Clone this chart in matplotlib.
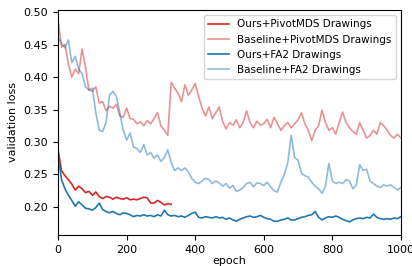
import numpy as np
import matplotlib
matplotlib.use('Agg')
import matplotlib.pyplot as plt

# validation loss sampled every 10 epochs
epochs = np.arange(0, 1001, 10)
epochs_op = np.arange(0, 331, 10)

ours_pivotmds = [0.288, 0.256, 0.248, 0.242, 0.235, 0.226, 0.232, 0.228, 0.222, 0.224,
                 0.218, 0.223, 0.216, 0.213, 0.216, 0.215, 0.212, 0.215, 0.213, 0.212,
                 0.214, 0.211, 0.212, 0.211, 0.213, 0.215, 0.214, 0.206, 0.206, 0.210,
                 0.207, 0.203, 0.205, 0.204]

base_pivotmds = [0.488, 0.446, 0.450, 0.420, 0.400, 0.412, 0.405, 0.443, 0.415, 0.380,
                 0.378, 0.385, 0.360, 0.362, 0.348, 0.355, 0.352, 0.358, 0.340, 0.338,
                 0.352, 0.336, 0.335, 0.328, 0.331, 0.325, 0.333, 0.328, 0.336, 0.345,
                 0.325, 0.318, 0.310, 0.392, 0.383, 0.375, 0.362, 0.388, 0.372, 0.380,
                 0.390, 0.370, 0.352, 0.340, 0.354, 0.336, 0.345, 0.354, 0.332, 0.320,
                 0.330, 0.326, 0.334, 0.322, 0.330, 0.348, 0.330, 0.322, 0.332, 0.326,
                 0.328, 0.335, 0.322, 0.338, 0.328, 0.318, 0.325, 0.330, 0.322, 0.328,
                 0.334, 0.345, 0.328, 0.318, 0.302, 0.318, 0.325, 0.349, 0.330, 0.318,
                 0.322, 0.312, 0.330, 0.346, 0.330, 0.322, 0.316, 0.312, 0.330, 0.318,
                 0.306, 0.310, 0.318, 0.312, 0.330, 0.325, 0.318, 0.310, 0.306, 0.312,
                 0.306]

ours_fa2 = [0.283, 0.242, 0.228, 0.218, 0.210, 0.201, 0.208, 0.203, 0.198, 0.197,
            0.195, 0.199, 0.206, 0.196, 0.193, 0.191, 0.193, 0.190, 0.188, 0.191,
            0.190, 0.188, 0.185, 0.187, 0.186, 0.188, 0.186, 0.187, 0.185, 0.188,
            0.186, 0.195, 0.188, 0.186, 0.187, 0.185, 0.186, 0.184, 0.187, 0.190,
            0.192, 0.184, 0.183, 0.185, 0.184, 0.183, 0.185, 0.183, 0.184, 0.181,
            0.183, 0.180, 0.178, 0.181, 0.183, 0.185, 0.186, 0.184, 0.185, 0.187,
            0.184, 0.182, 0.181, 0.178, 0.178, 0.180, 0.181, 0.183, 0.180, 0.180,
            0.182, 0.184, 0.185, 0.187, 0.188, 0.193, 0.184, 0.180, 0.183, 0.185,
            0.184, 0.186, 0.184, 0.181, 0.179, 0.177, 0.180, 0.182, 0.183, 0.182,
            0.184, 0.183, 0.189, 0.184, 0.182, 0.181, 0.182, 0.181, 0.183, 0.182,
            0.185]

base_fa2 = [0.460, 0.452, 0.445, 0.457, 0.422, 0.432, 0.412, 0.405, 0.385, 0.380,
            0.383, 0.345, 0.318, 0.316, 0.330, 0.372, 0.378, 0.370, 0.345, 0.318,
            0.303, 0.314, 0.292, 0.290, 0.284, 0.296, 0.280, 0.284, 0.275, 0.280,
            0.270, 0.276, 0.288, 0.268, 0.256, 0.260, 0.256, 0.260, 0.254, 0.244,
            0.238, 0.236, 0.240, 0.244, 0.242, 0.236, 0.240, 0.237, 0.232, 0.236,
            0.229, 0.233, 0.224, 0.226, 0.230, 0.236, 0.238, 0.231, 0.237, 0.236,
            0.233, 0.238, 0.231, 0.225, 0.223, 0.238, 0.250, 0.268, 0.310, 0.276,
            0.272, 0.252, 0.248, 0.246, 0.238, 0.232, 0.228, 0.221, 0.232, 0.267,
            0.240, 0.236, 0.238, 0.236, 0.242, 0.240, 0.228, 0.234, 0.265, 0.256,
            0.258, 0.240, 0.236, 0.232, 0.230, 0.234, 0.232, 0.234, 0.230, 0.226,
            0.230]

plt.rcParams['font.size'] = 8
fig = plt.figure(figsize=(4.12, 2.66), dpi=100)
ax = fig.add_axes([0.141, 0.117, 0.832, 0.845])

ax.plot(epochs_op, ours_pivotmds, color='tab:red', lw=1.2, label='Ours+PivotMDS Drawings')
ax.plot(epochs, base_pivotmds, color='tab:red', alpha=0.5, lw=1.2, label='Baseline+PivotMDS Drawings')
ax.plot(epochs, ours_fa2, color='tab:blue', lw=1.2, label='Ours+FA2 Drawings')
ax.plot(epochs, base_fa2, color='tab:blue', alpha=0.5, lw=1.2, label='Baseline+FA2 Drawings')

ax.set_xlim(0, 1000)
ax.set_ylim(0.157, 0.503)
ax.set_xticks([0, 200, 400, 600, 800, 1000])
ax.set_yticks([0.20, 0.25, 0.30, 0.35, 0.40, 0.45, 0.50])
ax.set_xlabel('epoch', labelpad=1)
ax.set_ylabel('validation loss')
ax.legend(loc='upper right', fontsize=7.5)

fig.savefig('out.png', dpi=100)
